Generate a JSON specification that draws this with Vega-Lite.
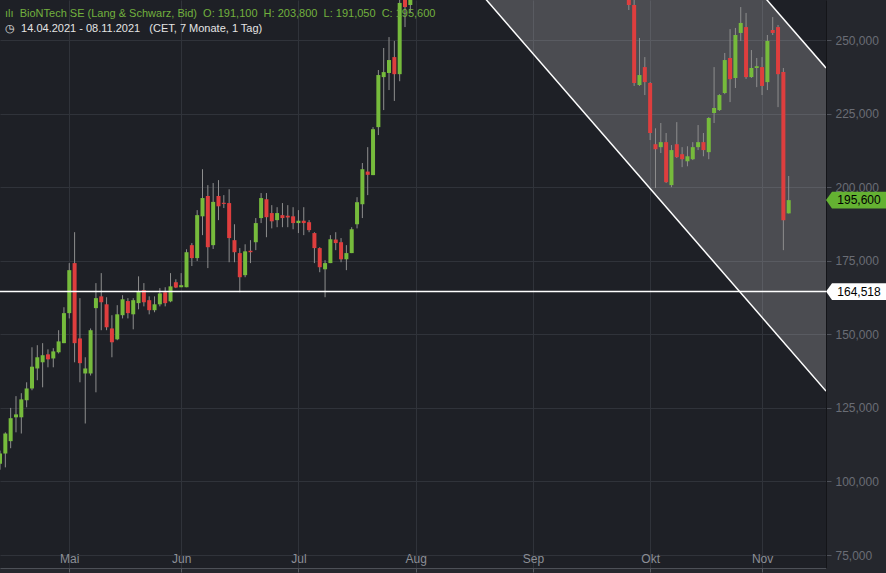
{
  "$schema": "https://vega.github.io/schema/vega-lite/v6.json",
  "width": 826,
  "height": 568,
  "padding": 0,
  "autosize": {"type": "pad"},
  "background": "#25272d",
  "config": {
    "view": {"fill": "#1e2026", "stroke": null},
    "font": "Liberation Sans",
    "axisY": {
      "labelExpr": "replace(format(datum.value, '.3f'), '.', ',')",
      "labelColor": "#6a6d75", "labelFontSize": 12, "labelFont": "Liberation Sans",
      "labelPadding": 4, "tickSize": 5, "tickColor": "#4f525a",
      "grid": true, "gridColor": "#30333a", "domainColor": "#141519"
    }
  },
  "title": {
    "text": "ılı\u00a0\u00a0BioNTech SE (Lang & Schwarz, Bid)\u00a0\u00a0O: 191,100\u00a0\u00a0H: 203,800\u00a0\u00a0L: 191,050\u00a0\u00a0C: 195,600",
    "subtitle": "◷\u00a0\u00a014.04.2021 - 08.11.2021\u00a0\u00a0\u00a0(CET, 7 Monate, 1 Tag)",
    "anchor": "start",
    "frame": "group",
    "orient": "top",
    "offset": -34,
    "dx": 5,
    "color": "#72b03e",
    "subtitleColor": "#e4e4e4",
    "fontSize": 11,
    "subtitleFontSize": 11,
    "fontWeight": "normal",
    "font": "Liberation Sans",
    "subtitleFont": "Liberation Sans",
    "subtitlePadding": 4
  },
  "datasets": {
    "candles": [
      {"date":"2021-04-14","o":106,"h":110.5,"l":104,"c":109.5},
      {"date":"2021-04-15","o":109.5,"h":116.7,"l":104.8,"c":116.3},
      {"date":"2021-04-16","o":113.7,"h":125,"l":111.3,"c":121.5},
      {"date":"2021-04-19","o":121.8,"h":129,"l":116.7,"c":122.8},
      {"date":"2021-04-20","o":121.8,"h":130,"l":116.3,"c":127.9},
      {"date":"2021-04-21","o":127.6,"h":133.7,"l":125.2,"c":131.6},
      {"date":"2021-04-22","o":131.6,"h":145.6,"l":131,"c":139},
      {"date":"2021-04-23","o":138.4,"h":146.3,"l":134.4,"c":142.2},
      {"date":"2021-04-26","o":140.5,"h":147,"l":132,"c":142.9},
      {"date":"2021-04-27","o":143.2,"h":144.9,"l":138.8,"c":141.5},
      {"date":"2021-04-28","o":141.8,"h":145.3,"l":138.8,"c":144.2},
      {"date":"2021-04-29","o":143.9,"h":151.4,"l":143.5,"c":147.6},
      {"date":"2021-04-30","o":147,"h":159.2,"l":147,"c":157.2},
      {"date":"2021-05-03","o":157.2,"h":174.2,"l":155.4,"c":171.8},
      {"date":"2021-05-04","o":174.2,"h":184.7,"l":140.5,"c":147},
      {"date":"2021-05-05","o":148.6,"h":162.3,"l":133.7,"c":140.2},
      {"date":"2021-05-06","o":136.7,"h":142.2,"l":119.7,"c":138.4},
      {"date":"2021-05-07","o":136.7,"h":152,"l":136,"c":151.4},
      {"date":"2021-05-10","o":158.9,"h":167.4,"l":130.3,"c":162.3},
      {"date":"2021-05-11","o":162.9,"h":170.8,"l":151.4,"c":160.9},
      {"date":"2021-05-12","o":160.2,"h":162.6,"l":151.4,"c":152.4},
      {"date":"2021-05-13","o":152,"h":156.5,"l":142.2,"c":147.3},
      {"date":"2021-05-14","o":148.3,"h":159.9,"l":148,"c":156.8},
      {"date":"2021-05-17","o":156.5,"h":163.3,"l":155.4,"c":161.9},
      {"date":"2021-05-18","o":161.3,"h":162.3,"l":155.4,"c":157.2},
      {"date":"2021-05-19","o":156.8,"h":162.3,"l":151.7,"c":161.6},
      {"date":"2021-05-20","o":160.6,"h":169.7,"l":158.5,"c":164.6},
      {"date":"2021-05-21","o":165,"h":167.4,"l":159.5,"c":160.9},
      {"date":"2021-05-24","o":161.6,"h":162.9,"l":156.8,"c":158.2},
      {"date":"2021-05-25","o":158.2,"h":162.9,"l":157.5,"c":160.2},
      {"date":"2021-05-26","o":160.2,"h":165.7,"l":159.5,"c":163.9},
      {"date":"2021-05-27","o":164.3,"h":166,"l":159.5,"c":160.6},
      {"date":"2021-05-28","o":161.2,"h":170.8,"l":160.9,"c":166.3},
      {"date":"2021-05-31","o":167.7,"h":168.7,"l":165.7,"c":165.9},
      {"date":"2021-06-01","o":166,"h":170.8,"l":166,"c":166.7},
      {"date":"2021-06-02","o":166,"h":178.9,"l":166,"c":177.9},
      {"date":"2021-06-03","o":180.3,"h":181,"l":173.2,"c":175.9},
      {"date":"2021-06-04","o":175.9,"h":192.2,"l":174.9,"c":190.5},
      {"date":"2021-06-07","o":190.1,"h":206.1,"l":183.7,"c":196.3},
      {"date":"2021-06-08","o":197,"h":200.7,"l":172.5,"c":179.6},
      {"date":"2021-06-09","o":180.3,"h":201.4,"l":179,"c":195},
      {"date":"2021-06-10","o":197,"h":202.4,"l":188.8,"c":193.5},
      {"date":"2021-06-11","o":194.7,"h":197.3,"l":192.9,"c":194.3},
      {"date":"2021-06-14","o":194.6,"h":199.3,"l":174.5,"c":182.7},
      {"date":"2021-06-15","o":182,"h":187.4,"l":174.5,"c":177.9},
      {"date":"2021-06-16","o":177.6,"h":179.3,"l":164.3,"c":169.4},
      {"date":"2021-06-17","o":170.1,"h":180.6,"l":169.4,"c":178.2},
      {"date":"2021-06-18","o":178.4,"h":182,"l":174.2,"c":177.9},
      {"date":"2021-06-21","o":181.3,"h":189.5,"l":178.6,"c":187.8},
      {"date":"2021-06-22","o":189.5,"h":198,"l":187.8,"c":196.3},
      {"date":"2021-06-23","o":195.9,"h":198,"l":183,"c":189.8},
      {"date":"2021-06-24","o":191.2,"h":193.9,"l":186,"c":188.4},
      {"date":"2021-06-25","o":188.8,"h":193.2,"l":186.4,"c":191.2},
      {"date":"2021-06-28","o":190.5,"h":194.6,"l":186.4,"c":189.5},
      {"date":"2021-06-29","o":190.3,"h":193.9,"l":186.4,"c":189.7},
      {"date":"2021-06-30","o":190.1,"h":193.2,"l":185.7,"c":187.8},
      {"date":"2021-07-01","o":187.8,"h":192.2,"l":184.4,"c":188.6},
      {"date":"2021-07-02","o":188.6,"h":193.2,"l":183.7,"c":187.8},
      {"date":"2021-07-05","o":188.1,"h":188.8,"l":184.7,"c":185.4},
      {"date":"2021-07-06","o":184.4,"h":184.7,"l":174.2,"c":179.3},
      {"date":"2021-07-07","o":179.3,"h":179.6,"l":171.1,"c":172.8},
      {"date":"2021-07-08","o":172.1,"h":175.2,"l":162.6,"c":174.2},
      {"date":"2021-07-09","o":174.2,"h":183.7,"l":174.2,"c":182.3},
      {"date":"2021-07-12","o":182.2,"h":184.7,"l":178.6,"c":181},
      {"date":"2021-07-13","o":181.3,"h":182.7,"l":174.5,"c":175.5},
      {"date":"2021-07-14","o":175.5,"h":180.3,"l":171.8,"c":177.6},
      {"date":"2021-07-15","o":177.6,"h":186.4,"l":177.6,"c":185.7},
      {"date":"2021-07-16","o":187.4,"h":196.6,"l":186,"c":194.9},
      {"date":"2021-07-19","o":194.2,"h":208.2,"l":189.5,"c":206.1},
      {"date":"2021-07-20","o":205.3,"h":213.6,"l":197.3,"c":204.2},
      {"date":"2021-07-21","o":204.1,"h":220.4,"l":204.1,"c":219.7},
      {"date":"2021-07-22","o":220.4,"h":239.8,"l":217.7,"c":238.1},
      {"date":"2021-07-23","o":237.4,"h":247.3,"l":226.2,"c":239.1},
      {"date":"2021-07-26","o":238.8,"h":251,"l":233,"c":243.2},
      {"date":"2021-07-27","o":244.2,"h":249.7,"l":229.3,"c":238.4},
      {"date":"2021-07-28","o":238.4,"h":266,"l":236,"c":262.6},
      {"date":"2021-07-29","o":270,"h":276,"l":254.4,"c":261.2},
      {"date":"2021-07-30","o":261.9,"h":280,"l":259.5,"c":274},
      {"date":"2021-08-02","o":275,"h":290,"l":270,"c":288},
      {"date":"2021-08-03","o":288,"h":300,"l":282,"c":296},
      {"date":"2021-08-04","o":296,"h":310,"l":290,"c":305},
      {"date":"2021-08-05","o":305,"h":318,"l":298,"c":312},
      {"date":"2021-08-06","o":312,"h":325,"l":305,"c":320},
      {"date":"2021-08-09","o":320,"h":345,"l":318,"c":340},
      {"date":"2021-08-10","o":340,"h":375,"l":330,"c":345},
      {"date":"2021-08-11","o":345,"h":350,"l":315,"c":320},
      {"date":"2021-08-12","o":320,"h":330,"l":305,"c":310},
      {"date":"2021-08-13","o":310,"h":322,"l":300,"c":318},
      {"date":"2021-08-16","o":318,"h":325,"l":300,"c":302},
      {"date":"2021-08-17","o":302,"h":310,"l":290,"c":295},
      {"date":"2021-08-18","o":295,"h":305,"l":285,"c":300},
      {"date":"2021-08-19","o":300,"h":312,"l":295,"c":308},
      {"date":"2021-08-20","o":308,"h":315,"l":296,"c":299},
      {"date":"2021-08-23","o":299,"h":320,"l":297,"c":315},
      {"date":"2021-08-24","o":315,"h":318,"l":295,"c":298},
      {"date":"2021-08-25","o":298,"h":302,"l":285,"c":288},
      {"date":"2021-08-26","o":288,"h":296,"l":282,"c":292},
      {"date":"2021-08-27","o":292,"h":300,"l":286,"c":289},
      {"date":"2021-08-30","o":289,"h":298,"l":284,"c":295},
      {"date":"2021-08-31","o":295,"h":300,"l":285,"c":288},
      {"date":"2021-09-01","o":288,"h":305,"l":287,"c":302},
      {"date":"2021-09-02","o":302,"h":310,"l":296,"c":300},
      {"date":"2021-09-03","o":300,"h":312,"l":298,"c":309},
      {"date":"2021-09-06","o":309,"h":318,"l":305,"c":314},
      {"date":"2021-09-07","o":314,"h":320,"l":300,"c":304},
      {"date":"2021-09-08","o":304,"h":308,"l":290,"c":293},
      {"date":"2021-09-09","o":293,"h":300,"l":286,"c":297},
      {"date":"2021-09-10","o":297,"h":303,"l":288,"c":291},
      {"date":"2021-09-13","o":291,"h":296,"l":278,"c":282},
      {"date":"2021-09-14","o":282,"h":290,"l":276,"c":287},
      {"date":"2021-09-15","o":287,"h":292,"l":280,"c":284},
      {"date":"2021-09-16","o":284,"h":290,"l":278,"c":288},
      {"date":"2021-09-17","o":288,"h":294,"l":281,"c":284},
      {"date":"2021-09-20","o":284,"h":288,"l":272,"c":276},
      {"date":"2021-09-21","o":276,"h":285,"l":273,"c":282},
      {"date":"2021-09-22","o":282,"h":290,"l":278,"c":286},
      {"date":"2021-09-23","o":286,"h":292,"l":280,"c":283},
      {"date":"2021-09-24","o":283,"h":288,"l":274,"c":278},
      {"date":"2021-09-27","o":278,"h":282,"l":260.2,"c":261.9},
      {"date":"2021-09-28","o":261.9,"h":264,"l":234.4,"c":235.4},
      {"date":"2021-09-29","o":234.7,"h":250.7,"l":234.4,"c":238.1},
      {"date":"2021-09-30","o":240.8,"h":244.2,"l":231.3,"c":235.7},
      {"date":"2021-10-01","o":235.4,"h":235.7,"l":216,"c":218.4},
      {"date":"2021-10-04","o":214.6,"h":220,"l":199.7,"c":212.9},
      {"date":"2021-10-05","o":213.6,"h":221.8,"l":211.6,"c":215.3},
      {"date":"2021-10-06","o":215.3,"h":218.4,"l":201.4,"c":201.7},
      {"date":"2021-10-07","o":200.7,"h":214.3,"l":200,"c":212.6},
      {"date":"2021-10-08","o":214.6,"h":222.1,"l":209.9,"c":210.2},
      {"date":"2021-10-11","o":211.2,"h":213.6,"l":206.8,"c":209.5},
      {"date":"2021-10-12","o":208.8,"h":213.9,"l":207.1,"c":210.5},
      {"date":"2021-10-13","o":209.5,"h":215.3,"l":209.2,"c":213.6},
      {"date":"2021-10-14","o":213.6,"h":221.1,"l":212.6,"c":215.3},
      {"date":"2021-10-15","o":215.3,"h":218.4,"l":210.5,"c":212.6},
      {"date":"2021-10-18","o":211.9,"h":223.8,"l":209.5,"c":223.5},
      {"date":"2021-10-19","o":225.2,"h":240.8,"l":221.8,"c":226.9},
      {"date":"2021-10-20","o":226.2,"h":231.6,"l":225.9,"c":231.3},
      {"date":"2021-10-21","o":232,"h":245.6,"l":231.6,"c":243.2},
      {"date":"2021-10-22","o":243.9,"h":253.7,"l":228.9,"c":236.7},
      {"date":"2021-10-25","o":237.1,"h":254.1,"l":233.7,"c":251.7},
      {"date":"2021-10-26","o":252.4,"h":261.2,"l":249.7,"c":255.8},
      {"date":"2021-10-27","o":254.4,"h":259.2,"l":236.8,"c":237.4},
      {"date":"2021-10-28","o":237.4,"h":246.6,"l":237.1,"c":240.5},
      {"date":"2021-10-29","o":240.5,"h":243.9,"l":234,"c":241.1},
      {"date":"2021-11-01","o":240.8,"h":244.2,"l":231.3,"c":234.4},
      {"date":"2021-11-02","o":235.7,"h":251.7,"l":233,"c":249.7},
      {"date":"2021-11-03","o":253.4,"h":257.8,"l":251.7,"c":252.4},
      {"date":"2021-11-04","o":254.4,"h":255.1,"l":227.2,"c":238.4},
      {"date":"2021-11-05","o":239.1,"h":240.5,"l":178.6,"c":188.8},
      {"date":"2021-11-08","o":191.1,"h":203.8,"l":191.05,"c":195.6}
    ],
    "channel": [
      {"date":"2021-08-19","lo":264.2,"hi":374.0},
      {"date":"2021-11-17","lo":130.7,"hi":240.5}
    ],
    "level": [
      {"date":"2021-04-14","end":"2021-11-17","value":164.518}
    ],
    "tags": [
      {"date":"2021-11-17","value":195.6,"label":"195,600","kind":"last"},
      {"date":"2021-11-17","value":164.518,"label":"164,518","kind":"level"}
    ]
  },
  "encoding": {
    "x": {
      "field": "date",
      "type": "ordinal",
      "scale": {
        "type": "point",
        "padding": 0,
        "domain": ["2021-04-14","2021-04-15","2021-04-16","2021-04-19","2021-04-20","2021-04-21","2021-04-22","2021-04-23","2021-04-26","2021-04-27","2021-04-28","2021-04-29","2021-04-30",
          "2021-05-03","2021-05-04","2021-05-05","2021-05-06","2021-05-07","2021-05-10","2021-05-11","2021-05-12","2021-05-13","2021-05-14","2021-05-17","2021-05-18","2021-05-19","2021-05-20","2021-05-21","2021-05-24","2021-05-25","2021-05-26","2021-05-27","2021-05-28","2021-05-31",
          "2021-06-01","2021-06-02","2021-06-03","2021-06-04","2021-06-07","2021-06-08","2021-06-09","2021-06-10","2021-06-11","2021-06-14","2021-06-15","2021-06-16","2021-06-17","2021-06-18","2021-06-21","2021-06-22","2021-06-23","2021-06-24","2021-06-25","2021-06-28","2021-06-29","2021-06-30",
          "2021-07-01","2021-07-02","2021-07-05","2021-07-06","2021-07-07","2021-07-08","2021-07-09","2021-07-12","2021-07-13","2021-07-14","2021-07-15","2021-07-16","2021-07-19","2021-07-20","2021-07-21","2021-07-22","2021-07-23","2021-07-26","2021-07-27","2021-07-28","2021-07-29","2021-07-30",
          "2021-08-02","2021-08-03","2021-08-04","2021-08-05","2021-08-06","2021-08-09","2021-08-10","2021-08-11","2021-08-12","2021-08-13","2021-08-16","2021-08-17","2021-08-18","2021-08-19","2021-08-20","2021-08-23","2021-08-24","2021-08-25","2021-08-26","2021-08-27","2021-08-30","2021-08-31",
          "2021-09-01","2021-09-02","2021-09-03","2021-09-06","2021-09-07","2021-09-08","2021-09-09","2021-09-10","2021-09-13","2021-09-14","2021-09-15","2021-09-16","2021-09-17","2021-09-20","2021-09-21","2021-09-22","2021-09-23","2021-09-24","2021-09-27","2021-09-28","2021-09-29","2021-09-30",
          "2021-10-01","2021-10-04","2021-10-05","2021-10-06","2021-10-07","2021-10-08","2021-10-11","2021-10-12","2021-10-13","2021-10-14","2021-10-15","2021-10-18","2021-10-19","2021-10-20","2021-10-21","2021-10-22","2021-10-25","2021-10-26","2021-10-27","2021-10-28","2021-10-29",
          "2021-11-01","2021-11-02","2021-11-03","2021-11-04","2021-11-05","2021-11-08","2021-11-09","2021-11-10","2021-11-11","2021-11-12","2021-11-15","2021-11-16","2021-11-17"]
      },
      "axis": {
        "title": null,
        "values": ["2021-05-03","2021-06-01","2021-07-01","2021-08-02","2021-09-01","2021-10-01","2021-11-01"],
        "labelExpr": "['Jan','Feb','Mär','Apr','Mai','Jun','Jul','Aug','Sep','Okt','Nov','Dez'][toNumber(substring(datum.value,5,7))-1]",
        "labelAngle": 0,
        "labelBaseline": "middle",
        "labelPadding": -14,
        "labelColor": "#8c8f96",
        "labelFontSize": 12,
        "labelFont": "Liberation Sans",
        "grid": true,
        "gridColor": "#30333a",
        "tickSize": 4,
        "tickColor": "#5a5d64",
        "domainColor": "#4d5057"
      }
    }
  },
  "layer": [
    {
      "data": {"name": "channel"},
      "mark": {"type": "area", "color": "#ffffff", "opacity": 0.2, "clip": true},
      "encoding": {
        "y": {"field": "lo", "type": "quantitative", "title": null, "scale": {"domain": [70.6, 263.6], "nice": false, "zero": false}, "axis": {"orient": "right", "title": null, "values": [75, 100, 125, 150, 175, 200, 225, 250]}},
        "y2": {"field": "hi"}
      }
    },
    {
      "data": {"name": "channel"},
      "mark": {"type": "line", "color": "#ffffff", "strokeWidth": 1.5, "clip": true},
      "encoding": {"y": {"field": "lo", "type": "quantitative", "title": null, "scale": {"domain": [70.6, 263.6], "nice": false, "zero": false}, "axis": {"orient": "right", "title": null, "values": [75, 100, 125, 150, 175, 200, 225, 250]}}}
    },
    {
      "data": {"name": "channel"},
      "mark": {"type": "line", "color": "#ffffff", "strokeWidth": 1.5, "clip": true},
      "encoding": {"y": {"field": "hi", "type": "quantitative", "title": null, "scale": {"domain": [70.6, 263.6], "nice": false, "zero": false}, "axis": {"orient": "right", "title": null, "values": [75, 100, 125, 150, 175, 200, 225, 250]}}}
    },
    {
      "data": {"name": "candles"},
      "mark": {"type": "rule", "color": "#8e8e8e", "strokeWidth": 1, "clip": true},
      "encoding": {
        "y": {"field": "l", "type": "quantitative", "title": null, "scale": {"domain": [70.6, 263.6], "nice": false, "zero": false}, "axis": {"orient": "right", "title": null, "values": [75, 100, 125, 150, 175, 200, 225, 250]}},
        "y2": {"field": "h"}
      }
    },
    {
      "data": {"name": "candles"},
      "mark": {"type": "bar", "size": 4, "clip": true},
      "encoding": {
        "y": {"field": "o", "type": "quantitative", "title": null, "scale": {"domain": [70.6, 263.6], "nice": false, "zero": false}, "axis": {"orient": "right", "title": null, "values": [75, 100, 125, 150, 175, 200, 225, 250]}},
        "y2": {"field": "c"},
        "color": {"condition": {"test": "datum.c >= datum.o", "value": "#76bb3c"}, "value": "#de3e3e"}
      }
    },
    {
      "data": {"name": "level"},
      "mark": {"type": "rule", "color": "#ffffff", "strokeWidth": 1.5, "clip": true},
      "encoding": {
        "x2": {"field": "end"},
        "y": {"field": "value", "type": "quantitative", "title": null, "scale": {"domain": [70.6, 263.6], "nice": false, "zero": false}, "axis": {"orient": "right", "title": null, "values": [75, 100, 125, 150, 175, 200, 225, 250]}}
      }
    },
    {
      "data": {"name": "tags"},
      "mark": {"type": "point", "shape": "M0,0L0.2,-0.28L2,-0.28L2,0.28L0.2,0.28Z", "size": 3600, "filled": true, "opacity": 1, "clip": false},
      "encoding": {
        "y": {"field": "value", "type": "quantitative", "title": null, "scale": {"domain": [70.6, 263.6], "nice": false, "zero": false}, "axis": {"orient": "right", "title": null, "values": [75, 100, 125, 150, 175, 200, 225, 250]}},
        "color": {"condition": {"test": "datum.kind == 'last'", "value": "#64b232"}, "value": "#ffffff"}
      }
    },
    {
      "data": {"name": "tags"},
      "mark": {"type": "text", "dx": 33, "align": "center", "baseline": "middle", "fontSize": 12, "font": "Liberation Sans", "color": "#000000", "clip": false},
      "encoding": {
        "y": {"field": "value", "type": "quantitative", "title": null, "scale": {"domain": [70.6, 263.6], "nice": false, "zero": false}, "axis": {"orient": "right", "title": null, "values": [75, 100, 125, 150, 175, 200, 225, 250]}},
        "text": {"field": "label"}
      }
    }
  ]
}
